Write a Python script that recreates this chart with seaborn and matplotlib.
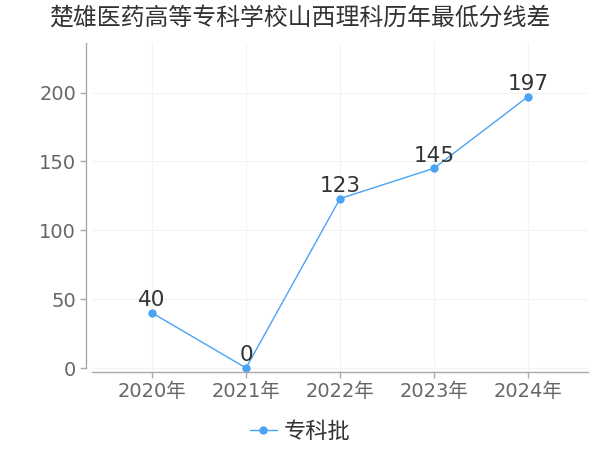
import matplotlib
matplotlib.use("Agg")
import matplotlib.pyplot as plt
import seaborn as sns
import pandas as pd

years = ["2020年", "2021年", "2022年", "2023年", "2024年"]
values = [40, 0, 123, 145, 197]
series_name = "专科批"
title = "楚雄医药高等专科学校山西理科历年最低分线差"

sns.set_theme(style="white")
plt.rcParams['font.family'] = ['DejaVu Sans', 'Noto Sans CJK SC']

df = pd.DataFrame({"year": years, "value": values, "series": series_name})

fig = plt.figure(figsize=(6, 4.5), dpi=100)
ax = fig.add_axes([92/600, 1-372/450, 496/600, 329/450])
color = "#4aa3f5"
sns.lineplot(data=df, x="year", y="value", hue="series", palette=[color],
             marker="o", markersize=6, markeredgewidth=0, linewidth=1, ax=ax, sort=False)

ax.set_xlim(-0.64, 4.64)
ax.set_ylim(-2.9, 236)
ax.set_yticks([0, 50, 100, 150, 200])
ax.set_xlabel("")
ax.set_ylabel("")
ax.grid(True, color="#f3f3f3", linewidth=0.8)
for s in ["top", "right"]:
    ax.spines[s].set_visible(False)
ax.spines["left"].set_position(("outward", 4))
ax.spines["left"].set_bounds(0, 236)
for s in ["left", "bottom"]:
    ax.spines[s].set_color("#aaaaaa")
    ax.spines[s].set_linewidth(1)
ax.tick_params(axis="both", colors="#aaaaaa", labelcolor="#666666", labelsize=14,
               length=4, width=1, direction="out", left=True, bottom=True)

for i, v in enumerate(values):
    ax.text(i, v + 2, str(v), ha="center", va="bottom", fontsize=15.5, color="#333333")

ax.legend_.remove()
handle = plt.Line2D([], [], color=color, marker="o", markersize=5, linewidth=1)
fig.legend([handle], [series_name], loc="center", bbox_to_anchor=(0.5, 1-432/450),
           frameon=False, fontsize=16, handlelength=1.2, handletextpad=0.3, labelcolor="#333333")

fig.suptitle(title, x=0.5, y=1-18/450, va="center", fontsize=17.2, color="#333333")
fig.savefig("out.png", dpi=100)
